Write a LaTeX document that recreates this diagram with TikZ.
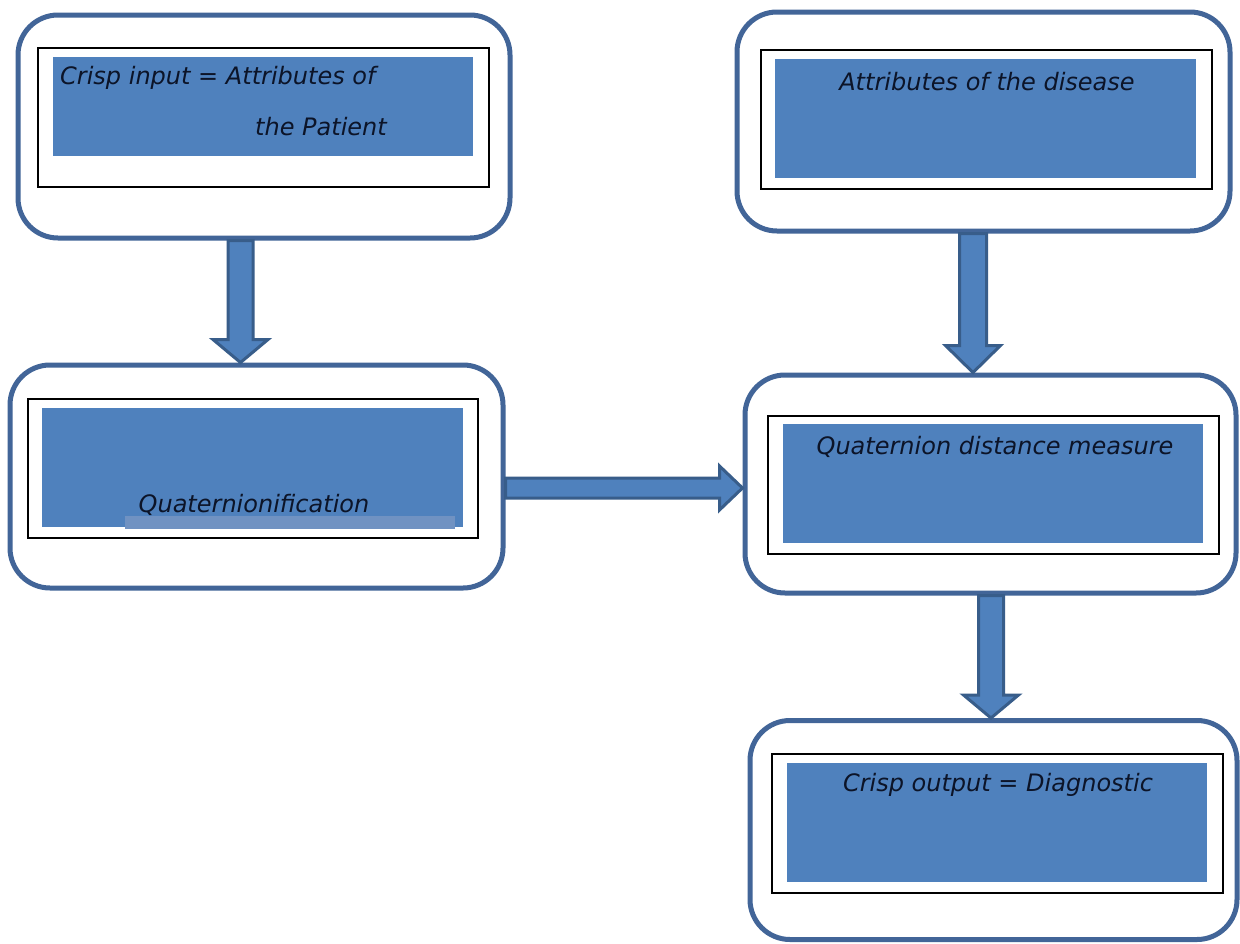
\documentclass[tikz,border=0pt]{standalone}
\usepackage{fontspec}
\setmainfont{DejaVu Sans}
\usetikzlibrary{calc}
\definecolor{boxedge}{RGB}{66,101,152}
\definecolor{fillblue}{RGB}{79,129,189}
\definecolor{arrowedge}{RGB}{56,93,138}
\definecolor{stripblue}{RGB}{112,146,194}
\definecolor{txt}{RGB}{12,20,40}
\tikzset{
  outerbox/.style={draw=boxedge,line width=5pt,rounded corners=40pt,fill=white,inner sep=0pt},
  framebox/.style={draw=black,line width=1.3pt,fill=white,inner sep=0pt},
  bluebox/.style={fill=fillblue,draw=none,inner sep=0pt},
  strip/.style={fill=stripblue,draw=none,inner sep=0pt},
  lbl/.style={font=\fontsize{24}{28}\selectfont\itshape,text=txt,inner sep=0pt,anchor=west},
  fatarrow/.style={fill=fillblue,draw=arrowedge,line width=3pt,line join=miter}
}
\newcommand\vfatarrow[6]{% start, end, x-coordinate, shaft half, head half, head length
  \draw[fatarrow] ($(#1 -| #3)+(-#4,0)$) -- ($(#1 -| #3)+(#4,0)$)
    -- ($(#2 -| #3)+(#4,-#6)$) -- ($(#2 -| #3)+(#5,-#6)$) -- (#2 -| #3)
    -- ($(#2 -| #3)+(-#5,-#6)$) -- ($(#2 -| #3)+(-#4,-#6)$) -- cycle;}
\newcommand\hfatarrow[6]{% start, end, y-coordinate, shaft half, head half, head length
  \draw[fatarrow] ($(#1 |- #3)+(0,-#4)$) -- ($(#1 |- #3)+(0,#4)$)
    -- ($(#2 |- #3)+(-#6,#4)$) -- ($(#2 |- #3)+(-#6,#5)$) -- (#2 |- #3)
    -- ($(#2 |- #3)+(-#6,-#5)$) -- ($(#2 |- #3)+(-#6,-#4)$) -- cycle;}
\begin{document}
\begin{tikzpicture}[x=1pt,y=-1pt]
\useasboundingbox[fill=white] (0,0) rectangle (1240,943);

% Box 1
\node[outerbox,minimum width=492pt,minimum height=223pt] (b1) at (264,126.5) {};
\node[framebox,minimum width=451pt,minimum height=139pt] (f1) at (263.5,117.5) {};
\node[bluebox,minimum width=420pt,minimum height=99pt] (u1) at (263,106.5) {};
\node[lbl] (t1a) at (60,78) {Crisp input = Attributes of};
\node[lbl] (t1b) at (255,127) {the Patient};

% Box 2
\node[outerbox,minimum width=493pt,minimum height=219pt] (b2) at (983.5,121.5) {};
\node[framebox,minimum width=451pt,minimum height=139pt] (f2) at (986.5,119.5) {};
\node[bluebox,minimum width=421pt,minimum height=119pt] (u2) at (985.5,118.5) {};
\node[lbl,anchor=center] (t2) at (987,82) {Attributes of the disease};

% Box 3
\node[outerbox,minimum width=493pt,minimum height=223pt] (b3) at (256.5,476.5) {};
\node[framebox,minimum width=450pt,minimum height=139pt] (f3) at (253,468.5) {};
\node[bluebox,minimum width=421pt,minimum height=119pt] (u3) at (252.5,467.5) {};
\node[strip,minimum width=330pt,minimum height=13pt] (s3) at (290,522.5) {};
\node[lbl,anchor=center] (t3) at (254,505) {Quaternionification};

% Box 4
\node[outerbox,minimum width=491pt,minimum height=218pt] (b4) at (990.5,484) {};
\node[framebox,minimum width=451pt,minimum height=138pt] (f4) at (993.5,485) {};
\node[bluebox,minimum width=420pt,minimum height=119pt] (u4) at (993,483.5) {};
\node[lbl,anchor=center] (t4) at (995,447) {Quaternion distance measure};

% Box 5
\node[outerbox,minimum width=487pt,minimum height=219pt] (b5) at (993.5,830) {};
\node[framebox,minimum width=451pt,minimum height=139pt] (f5) at (997.5,823.5) {};
\node[bluebox,minimum width=420pt,minimum height=119pt] (u5) at (997,822.5) {};
\node[lbl,anchor=center] (t5) at (998,785) {Crisp output = Diagnostic};

% Connectors
\coordinate (x1) at (240.5,0);
\coordinate (x2) at (973,0);
\coordinate (x3) at (991,0);
\coordinate (y1) at (0,488);
\vfatarrow{b1.south}{b3.north}{x1}{12.5}{27.5}{23}
\vfatarrow{b2.south}{b4.north}{x2}{13.5}{27.5}{27}
\vfatarrow{b4.south}{b5.north}{x3}{12.5}{27.5}{23}
\hfatarrow{b3.east}{b4.west}{y1}{10}{22}{23}
\end{tikzpicture}
\end{document}
